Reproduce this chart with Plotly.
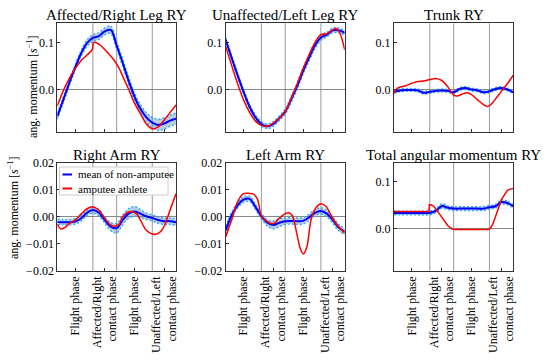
import plotly.graph_objects as go
from plotly.subplots import make_subplots

# ---------------- data ----------------
X = list(range(0, 101, 5))
titles = ["Affected/Right Leg RY", "Unaffected/Left Leg RY", "Trunk RY",
          "Right Arm RY", "Left Arm RY", "Total angular momentum RY"]
phase_bounds = [30, 50, 80]
phase_tick_pos = [15, 40, 65, 90]
phase_labels = ["Flight phase", "Affected/Right<br>contact phase",
                "Flight phase", "Unaffected/Left<br>contact phase"]

# mean of non-amputee (x = 0,5,...,100)
mean_rleg = [-0.056, -0.021, 0.014, 0.047, 0.077, 0.099, 0.110, 0.114, 0.124, 0.127, 0.094,
             0.058, 0.020, -0.014, -0.040, -0.058, -0.069, -0.074, -0.071, -0.065, -0.061]
mean_lleg = [0.106, 0.068, 0.031, -0.004, -0.035, -0.058, -0.072, -0.077, -0.072, -0.060, -0.046,
             -0.020, 0.008, 0.040, 0.068, 0.094, 0.111, 0.117, 0.126, 0.126, 0.121]
mean_trunk = [-0.004, -0.001, 0.000, 0.000, -0.001, -0.006, -0.004, -0.002, -0.001, -0.002, -0.005,
              0.002, 0.004, 0.001, -0.001, -0.005, -0.003, 0.002, 0.004, 0.001, -0.005]
mean_rarm = [-0.0019, -0.0020, -0.0020, -0.0017, -0.0006, 0.0015, 0.0025, 0.0015, -0.0012, -0.0036, -0.0042,
             -0.0012, 0.0012, 0.0020, 0.0012, 0.0002, -0.0004, -0.0012, -0.0016, -0.0016, -0.0020]
mean_larm = [-0.0050, 0.0006, 0.0043, 0.0064, 0.0067, 0.0037, 0.0002, -0.0022, -0.0030, -0.0022, -0.0016,
             -0.0015, -0.0016, -0.0015, -0.0002, 0.0015, 0.0022, 0.0012, -0.0012, -0.0040, -0.0055]
mean_total = [0.0336, 0.0336, 0.0336, 0.0336, 0.0336, 0.0336, 0.0340, 0.0380, 0.0486, 0.0450, 0.0430,
              0.0430, 0.0430, 0.0430, 0.0430, 0.0430, 0.0460, 0.0480, 0.0570, 0.0550, 0.0480]

# standard deviation of non-amputee
sd_rleg = [0.006, 0.006, 0.006, 0.006, 0.006, 0.007, 0.007, 0.007, 0.007, 0.008, 0.008,
           0.008, 0.008, 0.008, 0.009, 0.010, 0.011, 0.012, 0.012, 0.012, 0.012]
sd_lleg = [0.005, 0.005, 0.005, 0.005, 0.005, 0.005, 0.005, 0.005, 0.005, 0.005, 0.005,
           0.007, 0.007, 0.007, 0.007, 0.007, 0.006, 0.005, 0.005, 0.005, 0.005]
sd_trunk = [0.003] * 21
sd_rarm = [0.0010, 0.0010, 0.0010, 0.0010, 0.0010, 0.0010, 0.0012, 0.0012, 0.0012, 0.0015, 0.0018,
           0.0018, 0.0018, 0.0018, 0.0015, 0.0012, 0.0012, 0.0012, 0.0012, 0.0012, 0.0012]
sd_larm = [0.0015, 0.0012, 0.0010, 0.0010, 0.0010, 0.0010, 0.0010, 0.0012, 0.0015, 0.0015, 0.0012,
           0.0012, 0.0012, 0.0012, 0.0012, 0.0012, 0.0012, 0.0012, 0.0012, 0.0012, 0.0012]
sd_total = [0.004, 0.004, 0.004, 0.004, 0.004, 0.004, 0.004, 0.004, 0.005, 0.004, 0.004,
            0.004, 0.004, 0.004, 0.004, 0.004, 0.004, 0.004, 0.005, 0.004, 0.004]

# amputee athlete
amp_rleg_x = [0, 5, 10, 15, 20, 25, 29.5, 30.5, 33, 37, 42, 47, 52, 56, 60, 65, 70, 75, 80, 85, 90, 95, 100]
amp_rleg = [-0.034, -0.002, 0.024, 0.045, 0.062, 0.074, 0.086, 0.100, 0.100, 0.093, 0.080, 0.066, 0.046,
            0.024, 0.002, -0.028, -0.050, -0.072, -0.082, -0.078, -0.064, -0.048, -0.032]
amp_lleg_x = [0, 5, 10, 15, 20, 25, 30, 35, 40, 45, 50, 55, 60, 65, 70, 75, 80, 85, 90, 93, 96, 100]
amp_lleg = [0.092, 0.052, 0.013, -0.021, -0.047, -0.066, -0.075, -0.077, -0.070, -0.060, -0.046,
            -0.018, 0.012, 0.045, 0.074, 0.100, 0.117, 0.119, 0.127, 0.130, 0.120, 0.085]
amp_trunk_x = [0, 3, 10, 15, 20, 25, 30, 35, 40, 45, 50, 53, 57, 61, 65, 70, 75, 78.5, 82, 86, 90, 95, 100]
amp_trunk = [-0.007, 0.004, 0.009, 0.014, 0.018, 0.019, 0.022, 0.024, 0.020, 0.007, -0.011, -0.013,
             -0.009, -0.006, -0.010, -0.021, -0.031, -0.035, -0.029, -0.016, -0.003, 0.013, 0.031]
amp_rarm_x = [0, 3, 7, 10, 15, 20, 25, 30, 35, 40, 45, 48, 52, 55, 60, 63, 67, 70, 75, 80, 83, 87, 90, 95, 100]
amp_rarm = [-0.0027, -0.0045, -0.0038, -0.0025, -0.0012, 0.0010, 0.0030, 0.0037, 0.0025, -0.0006, -0.0030,
            -0.0035, -0.0028, 0.0000, 0.0018, 0.0020, 0.0010, -0.0012, -0.0050, -0.0064, -0.0065, -0.0055,
            -0.0035, 0.0025, 0.0086]
amp_larm_x = [0, 5, 10, 15, 20, 23, 26.5, 30, 34, 40, 45, 50, 53, 56, 60, 63, 65.3, 68, 72, 76, 80, 84, 90, 95, 100]
amp_larm = [-0.0074, -0.0012, 0.0056, 0.0086, 0.0087, 0.0085, 0.0068, 0.0004, -0.0015, -0.0025, -0.0005,
            0.0012, 0.0015, 0.0004, -0.0068, -0.0122, -0.0138, -0.0115, -0.0006, 0.0035, 0.0049, 0.0040,
            -0.0006, -0.0037, -0.0060]
amp_total_x = [0, 29.4, 29.6, 31, 33, 35, 40, 45, 47, 49, 51, 60, 70, 79, 81, 83, 85, 90, 95, 98, 100]
amp_total = [0.037, 0.037, 0.051, 0.051, 0.0486, 0.043, 0.025, 0.007, 0.003, -0.001, -0.0014, -0.0014,
             -0.0014, -0.0014, 0.002, 0.011, 0.025, 0.062, 0.082, 0.085, 0.086]

means = [mean_rleg, mean_lleg, mean_trunk, mean_rarm, mean_larm, mean_total]
sds = [sd_rleg, sd_lleg, sd_trunk, sd_rarm, sd_larm, sd_total]
amps = [(amp_rleg_x, amp_rleg), (amp_lleg_x, amp_lleg), (amp_trunk_x, amp_trunk),
        (amp_rarm_x, amp_rarm), (amp_larm_x, amp_larm), (amp_total_x, amp_total)]
amp_shapes = ["spline", "spline", "spline", "spline", "spline", "linear"]
yranges = [[-0.089, 0.141], [-0.089, 0.141], [-0.089, 0.141],
           [-0.02, 0.02], [-0.02, 0.02], [-0.089, 0.14]]

# ---------------- figure ----------------
W, H = 550, 361
FONT = "Liberation Serif, Times New Roman, serif"
xdom_px = [(57.3, 176.0), (225.7, 344.7), (394.0, 513.3)]
ydom_px = [(23.3, 132.0), (163.0, 270.7)]

fig = make_subplots(rows=2, cols=3)

for i in range(6):
    r, c = divmod(i, 3)
    m, s = means[i], sds[i]
    up = [a + b for a, b in zip(m, s)]
    lo = [a - b for a, b in zip(m, s)]
    kw = dict(row=r + 1, col=c + 1)
    fig.add_trace(go.Scatter(x=X, y=lo, mode="lines", line=dict(width=0, shape="spline"),
                             showlegend=False, hoverinfo="skip"), **kw)
    fig.add_trace(go.Scatter(x=X, y=up, mode="lines", line=dict(width=0, shape="spline"),
                             fill="tonexty", fillcolor="rgba(70,130,180,0.4)",
                             showlegend=False, hoverinfo="skip"), **kw)
    for edge in (up, lo):
        fig.add_trace(go.Scatter(x=X, y=edge, mode="lines",
                                 line=dict(color="#33aaff", width=1.4, dash="2px,2px", shape="spline"),
                                 showlegend=False, hoverinfo="skip"), **kw)
    fig.add_trace(go.Scatter(x=X, y=m, mode="lines", name="mean of non-amputee",
                             line=dict(color="#0000ff", width=2, shape="spline"),
                             showlegend=False), **kw)
    ax, ay = amps[i]
    fig.add_trace(go.Scatter(x=ax, y=ay, mode="lines", name="amputee athlete",
                             line=dict(color="#ff0000", width=1.5, shape=amp_shapes[i]),
                             showlegend=False), **kw)

axis_common = dict(showline=True, mirror=True, linecolor="#333333", linewidth=1,
                   ticks="inside", ticklen=3, tickcolor="#333333", showgrid=False,
                   automargin=False,
                   tickfont=dict(family=FONT, size=12, color="black"))

for i in range(6):
    r, c = divmod(i, 3)
    n = "" if i == 0 else str(i + 1)
    x0, x1 = xdom_px[c]
    yt, yb = ydom_px[r]
    fig.layout["xaxis" + n].update(
        domain=[x0 / W, x1 / W], range=[0, 100], zeroline=False,
        tickmode="array", tickvals=phase_tick_pos, ticktext=phase_labels,
        showticklabels=(r == 1), tickangle=-90, **axis_common)
    if i in (3, 4):
        ytk = dict(tickmode="array", tickvals=[-0.02, -0.01, 0.0, 0.01, 0.02], tickformat=".2f")
    else:
        ytk = dict(tickmode="array", tickvals=[0.0, 0.1], tickformat=".1f")
    fig.layout["yaxis" + n].update(
        domain=[1 - yb / H, 1 - yt / H], range=yranges[i],
        zeroline=True, zerolinecolor="#888888", zerolinewidth=1, **ytk, **axis_common)
    for b in phase_bounds:
        fig.add_shape(type="line", xref="x" + n, yref="y" + n + " domain",
                      x0=b, x1=b, y0=0, y1=1, layer="below",
                      line=dict(color="#999999", width=1))
    # subplot title
    fig.add_annotation(text=titles[i], xref="paper", yref="paper",
                       x=(x0 + x1) / 2 / W, y=1 - (yt - 8) / H,
                       xanchor="center", yanchor="middle", showarrow=False,
                       font=dict(family=FONT, size=15, color="black"))

# y-axis titles
ylab = "ang. momentum [<i>s</i><sup>−1</sup>]"
for (xc, yc) in [(32, 87), (13, 208)]:
    fig.add_annotation(text=ylab, xref="paper", yref="paper", x=xc / W, y=1 - yc / H,
                       xanchor="center", yanchor="middle", textangle=-90, showarrow=False,
                       font=dict(family=FONT, size=12, color="black"))

# legend (drawn inside Right Arm panel)
fig.add_shape(type="rect", xref="paper", yref="paper", x0=59.5 / W, x1=168 / W,
              y0=1 - 195 / H, y1=1 - 167 / H, fillcolor="white",
              line=dict(color="#cccccc", width=1), layer="above")
legend_items = [("mean of non-amputee", "#0000ff", 174.5), ("amputee athlete", "#ff0000", 188.5)]
for label, col, yy in legend_items:
    fig.add_shape(type="line", xref="paper", yref="paper", x0=62.5 / W, x1=72 / W,
                  y0=1 - yy / H, y1=1 - yy / H, line=dict(color=col, width=2), layer="above")
    fig.add_annotation(text=label, xref="paper", yref="paper", x=76 / W, y=1 - yy / H,
                       xanchor="left", yanchor="middle", showarrow=False,
                       font=dict(family=FONT, size=11, color="black"))

fig.update_layout(width=W, height=H, autosize=False,
                  margin=dict(l=0, r=0, t=0, b=0),
                  paper_bgcolor="white", plot_bgcolor="white",
                  showlegend=False, font=dict(family=FONT, color="black"))

fig.write_html("out.html", config={"displayModeBar": False},
               post_script="document.body.style.margin='0px';document.body.style.overflow='hidden';")
